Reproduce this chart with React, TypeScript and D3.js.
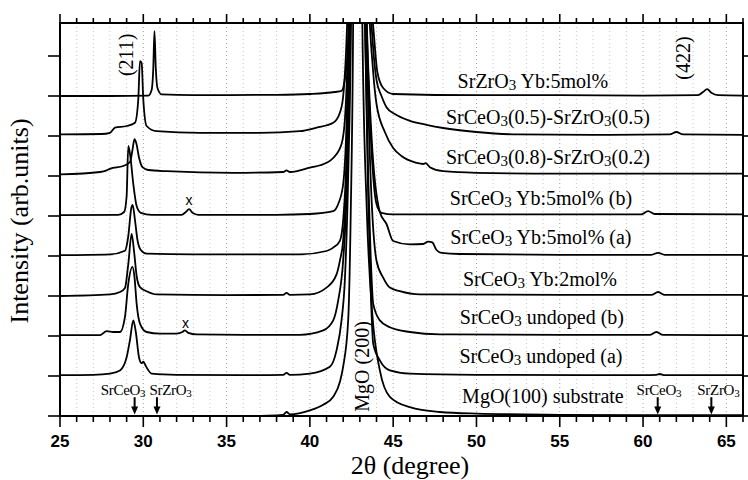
import React, { useRef, useEffect } from 'react';
import * as d3 from 'd3';

type Pt = [number, number];

// each scan: [2theta, height above its own baseline]; baselines are one tick apart
const mgoSubstrate: Pt[] = [
  [25, 0], [30, 0], [35, 0], [37.5, 0.01], [38.4, 0.03], [38.6, 0.1], [38.8, 0.04], [40, 0.14],
  [40.8, 0.28], [41.4, 0.48], [41.8, 0.85], [42.0, 1.24], [42.3, 2.4], [42.45, 5], [42.6, 10], [42.7, 18],
  [42.85, 40], [43.0, 18], [43.15, 9.8], [43.42, 5.1], [43.73, 2.64], [44.2, 1.14], [44.8, 0.48],
  [46, 0.22], [47.8, 0.1], [50, 0.06], [55, 0.03], [60, 0.02], [66, 0.02],
];
const undopedA: Pt[] = [
  [25, 0.02], [27, 0.03], [28.0, 0.06], [28.6, 0.14], [29.0, 0.47], [29.2, 0.9], [29.4, 1.39], [29.55, 1.1],
  [29.75, 0.45], [29.9, 0.32], [30.0, 0.36], [30.15, 0.25], [30.5, 0.06], [32, 0.03], [36, 0.02], [38.4, 0.03],
  [38.6, 0.08], [38.8, 0.03], [40.0, 0.06], [41.2, 0.23], [41.6, 0.64], [41.9, 1.39], [42.1, 2.4], [42.3, 5],
  [42.5, 10], [42.6, 16], [42.85, 40], [43.1, 16], [43.3, 9], [43.5, 4.5], [43.65, 2.2], [43.8, 0.81],
  [44.2, 0.39], [44.8, 0.14], [46, 0.06], [50, 0.03], [60, 0.02], [60.8, 0.03], [61.0, 0.05], [61.3, 0.02], [66, 0.02],
];
const undopedB: Pt[] = [
  [25, 0.02], [27.4, 0.02], [27.8, 0.12], [28.2, 0.1], [28.6, 0.1], [28.9, 0.48], [29.1, 1.31], [29.35, 1.73],
  [29.47, 1.48], [29.6, 0.81], [29.8, 0.31], [30.2, 0.1], [31, 0.06], [32.0, 0.06], [32.35, 0.1], [32.5, 0.14],
  [32.7, 0.08], [33.2, 0.04], [36, 0.03], [39.4, 0.03], [40.8, 0.14], [41.4, 0.39], [41.7, 0.89], [42.0, 1.9],
  [42.2, 3.5], [42.4, 7.5], [42.6, 16], [42.85, 40], [43.1, 15], [43.3, 8], [43.5, 4], [43.65, 2], [43.8, 0.81],
  [44.2, 0.39], [44.8, 0.22], [46, 0.1], [47.8, 0.04], [55, 0.03], [60.4, 0.03], [60.8, 0.1], [61.2, 0.03], [66, 0.02],
];
const yb2: Pt[] = [
  [25, 0.0], [28.0, 0.04], [28.6, 0.1], [28.9, 0.2], [29.1, 0.8], [29.3, 1.55], [29.45, 1.1], [29.6, 0.5],
  [29.8, 0.22], [30.2, 0.12], [30.8, 0.04], [35, 0.02], [38.4, 0.03], [38.6, 0.08], [38.8, 0.03], [40, 0.04],
  [41.0, 0.21], [41.6, 0.54], [41.8, 0.88], [42.0, 1.4], [42.2, 3], [42.4, 7], [42.6, 15], [42.85, 40],
  [43.1, 15], [43.3, 8.5], [43.6, 3.5], [44.0, 0.88], [44.4, 0.46], [44.8, 0.21], [45.4, 0.12], [46.6, 0.04],
  [55, 0.03], [60.5, 0.03], [60.9, 0.1], [61.3, 0.03], [66, 0.03],
];
const yb5a: Pt[] = [
  [25, 0.02], [28, 0.04], [28.9, 0.13], [29.1, 0.5], [29.28, 1.2], [29.36, 1.28], [29.5, 0.9], [29.65, 0.4],
  [29.85, 0.15], [30.2, 0.06], [33, 0.04], [39.4, 0.04], [41.0, 0.125], [41.4, 0.21], [41.8, 0.38], [42.0, 0.9],
  [42.2, 2.5], [42.4, 6.5], [42.6, 14], [42.85, 40], [43.1, 14], [43.3, 8], [43.7, 3], [44.2, 1.1], [44.6, 0.8],
  [45.0, 0.375], [46.0, 0.29], [46.8, 0.3], [47.1, 0.36], [47.35, 0.34], [47.6, 0.15], [47.9, 0.08], [49, 0.05],
  [55, 0.03], [60.5, 0.03], [60.9, 0.08], [61.3, 0.03], [66, 0.03],
];
const yb5b: Pt[] = [
  [25, 0.02], [28.5, 0.03], [28.85, 0.1], [29.0, 0.5], [29.1, 1.75], [29.22, 1.5], [29.4, 0.8], [29.6, 0.25],
  [29.85, 0.08], [30.5, 0.03], [32.3, 0.03], [32.55, 0.1], [32.75, 0.17], [32.95, 0.08], [33.3, 0.03], [38, 0.03],
  [40, 0.05], [41.4, 0.12], [41.7, 0.3], [42.0, 0.8], [42.2, 2.3], [42.4, 6], [42.6, 13], [42.85, 40],
  [43.1, 14], [43.3, 7], [43.6, 2.5], [43.8, 1.0], [44.0, 0.3], [44.3, 0.08], [45, 0.04], [55, 0.04],
  [59.9, 0.04], [60.3, 0.12], [60.7, 0.05], [66, 0.04],
];
const ce08zr02: Pt[] = [
  [25, 0.04], [27.4, 0.1], [27.8, 0.14], [28.0, 0.18], [28.8, 0.25], [29.2, 0.35], [29.35, 0.65], [29.47, 0.92],
  [29.58, 0.82], [29.75, 0.45], [29.95, 0.22], [30.3, 0.15], [31.4, 0.12], [35.4, 0.08], [38.4, 0.1], [38.6, 0.14],
  [38.8, 0.1], [40.0, 0.21], [41.0, 0.33], [41.4, 0.45], [41.9, 0.8], [42.1, 1.4], [42.3, 3.5], [42.5, 8],
  [42.65, 15], [42.85, 40], [43.1, 14], [43.4, 6], [43.8, 2.6], [44.0, 1.8], [44.5, 1.1], [45.0, 0.7],
  [45.5, 0.5], [46.4, 0.33], [46.8, 0.3], [46.95, 0.32], [47.2, 0.22], [48, 0.12], [50, 0.08], [55, 0.06],
  [60, 0.06], [66, 0.06],
];
const ce05zr05: Pt[] = [
  [25, 0.04], [27.5, 0.05], [28.0, 0.08], [28.3, 0.21], [29.0, 0.25], [29.5, 0.33], [29.7, 0.92], [29.8, 1.87],
  [29.9, 1.83], [30.0, 0.92], [30.2, 0.25], [30.8, 0.12], [33.4, 0.08], [37, 0.08], [39.4, 0.12], [40.4, 0.21],
  [41.4, 0.33], [41.8, 0.58], [42.0, 1.0], [42.2, 2.4], [42.4, 5.5], [42.6, 12], [42.85, 40], [43.1, 14],
  [43.4, 6], [43.8, 2.2], [44.0, 1.4], [44.3, 1.0], [44.6, 0.72], [45.1, 0.55], [46, 0.38], [47, 0.28],
  [48, 0.2], [50, 0.1], [52.5, 0.04], [58, 0.03], [61.6, 0.04], [62.0, 0.1], [62.4, 0.04], [66, 0.03],
];
const zrYb5: Pt[] = [
  [25, 0], [28, 0], [30.3, 0.01], [30.5, 0.15], [30.6, 0.7], [30.67, 1.62], [30.75, 0.7], [30.85, 0.2],
  [31.1, 0.04], [33, 0.02], [38, 0.03], [40, 0.05], [41.5, 0.1], [41.9, 0.13], [42.1, 0.42], [42.25, 1.0],
  [42.4, 2.2], [42.6, 8], [42.85, 40], [43.1, 14], [43.35, 6], [43.6, 3], [43.85, 1.5], [44.05, 0.6],
  [44.4, 0.2], [45.0, 0.05], [50, 0.02], [55, 0.02], [60, 0.01], [63.3, 0.02], [63.6, 0.1], [63.85, 0.17],
  [64.1, 0.08], [64.5, 0.02], [66, 0.01],
];

const scans = [mgoSubstrate, undopedA, undopedB, yb2, yb5a, yb5b, ce08zr02, ce05zr05, zrYb5];
const scanNames = [
  'MgO(100) substrate', 'SrCeO3 undoped (a)', 'SrCeO3 undoped (b)', 'SrCeO3 Yb:2mol%',
  'SrCeO3 Yb:5mol% (a)', 'SrCeO3 Yb:5mol% (b)', 'SrCeO3(0.8)-SrZrO3(0.2)',
  'SrCeO3(0.5)-SrZrO3(0.5)', 'SrZrO3 Yb:5mol%',
];
const nameX = [53.99, 53.87, 53.93, 53.81, 53.87, 53.87, 54.29, 54.29, 53.39];
const nameY = [0.325, 1.325, 2.3, 3.25, 4.3, 5.275, 6.3, 7.3, 8.2];

const hklText = ['(211)', '(422)', 'MgO (200)'];
const hklX = [28.95, 62.4, 43.1];
const hklY = [9.03, 8.95, 1.24];

const phaseText = ['SrCeO3', 'SrZrO3', 'SrCeO3', 'SrZrO3'];
const phaseAt = [29.48, 30.82, 60.88, 64.1];
const phaseTextX = [28.78, 31.63, 60.95, 64.52];

const impurityX = [32.74, 32.53];
const impurityY = [5.275, 2.2];

const xTicks = [25, 30, 35, 40, 45, 50, 55, 60, 65];
const yTicks = [0, 1, 2, 3, 4, 5, 6, 7, 8, 9];

const serif = '"Liberation Serif", "Times New Roman", serif';
const sans = '"Liberation Sans", Arial, sans-serif';

// writes "O3" with a small 3
const chem = (sel, str, sub, d) => {
  const parts = str.split('O3');
  parts.forEach((p, i) => {
    const t = sel.append('tspan').text(p + (i < parts.length - 1 ? 'O' : ''));
    if (i > 0) t.attr('dy', -d);
    if (i < parts.length - 1) sel.append('tspan').attr('font-size', sub).attr('dy', d).text('3');
  });
};

const XrdChart = ({ width = 748, height = 480 }) => {
  const svgRef = useRef(null);

  useEffect(() => {
    const svg = d3.select(svgRef.current);
    svg.selectAll('*').remove();

    const x = d3.scaleLinear().domain([25, 66]).range([60, 743]);
    const y = d3.scaleLinear().domain([0, 9.825]).range([416, 23]);
    const [x0, x1] = x.range();
    const [yb, yt] = y.range();

    svg.append('defs').append('clipPath').attr('id', 'plotclip')
      .append('rect').attr('x', x0).attr('y', yt).attr('width', x1 - x0).attr('height', yb - yt + 1);

    // dotted grid
    svg.append('g').selectAll('line')
      .data(d3.range(26, 66))
      .enter().append('line')
      .attr('x1', d => x(d)).attr('x2', d => x(d))
      .attr('y1', yt).attr('y2', yb)
      .attr('stroke', d => (d % 5 === 0 ? '#888' : '#bbb'))
      .attr('stroke-width', 0.8)
      .attr('stroke-dasharray', '1,3');

    // scans
    const plot = svg.append('g').attr('clip-path', 'url(#plotclip)');
    scans.forEach((pts, k) => {
      const line = d3.line<Pt>()
        .x(d => x(d[0]))
        .y(d => y(d[1] + k))
        .curve(d3.curveMonotoneX);
      plot.append('path')
        .datum(pts)
        .attr('d', line)
        .attr('fill', 'none')
        .attr('stroke', '#000')
        .attr('stroke-width', 1.8)
        .attr('stroke-linejoin', 'round');
    });

    // frame
    svg.append('rect')
      .attr('x', x0).attr('y', yt).attr('width', x1 - x0).attr('height', yb - yt)
      .attr('fill', 'none').attr('stroke', '#000').attr('stroke-width', 2);

    // ticks on all four sides
    const ax = svg.append('g').attr('stroke', '#000').attr('stroke-width', 1.6);
    d3.range(25, 67).forEach(v => {
      const major = v % 5 === 0;
      ax.append('line').attr('x1', x(v)).attr('x2', x(v)).attr('y1', yb).attr('y2', yb + (major ? 11 : 6));
      ax.append('line').attr('x1', x(v)).attr('x2', x(v)).attr('y1', yt).attr('y2', yt - (major ? 9 : 5));
    });
    yTicks.forEach(v => {
      ax.append('line').attr('x1', x0 - 12).attr('x2', x0).attr('y1', y(v)).attr('y2', y(v));
      ax.append('line').attr('x1', x1).attr('x2', x1 + 6).attr('y1', y(v)).attr('y2', y(v));
    });

    svg.append('g').selectAll('text')
      .data(xTicks)
      .enter().append('text')
      .attr('x', d => x(d)).attr('y', 447)
      .attr('text-anchor', 'middle')
      .attr('font-family', sans).attr('font-size', 17).attr('font-weight', 'bold')
      .text(d => d);

    // axis titles
    svg.append('text')
      .attr('transform', 'translate(28,221) rotate(-90)')
      .attr('text-anchor', 'middle')
      .attr('font-family', serif).attr('font-size', 26)
      .text('Intensity (arb.units)');
    svg.append('text')
      .attr('x', 410).attr('y', 474)
      .attr('text-anchor', 'middle')
      .attr('font-family', serif).attr('font-size', 26)
      .text('2\u03b8 (degree)');

    // scan names
    scanNames.forEach((name, i) => {
      const t = svg.append('text')
        .attr('x', x(nameX[i])).attr('y', y(nameY[i]))
        .attr('text-anchor', 'middle')
        .attr('font-family', serif).attr('font-size', 20)
        .style('white-space', 'pre');
      chem(t, name, 15, 2);
    });

    // reflection labels
    hklText.forEach((s, i) => {
      svg.append('text')
        .attr('transform', `translate(${x(hklX[i])},${y(hklY[i])}) rotate(-90)`)
        .attr('text-anchor', 'middle').attr('dy', '0.35em')
        .attr('font-family', serif).attr('font-size', 20)
        .text(s);
    });

    // impurity marks
    impurityX.forEach((v, i) => {
      svg.append('text')
        .attr('x', x(v)).attr('y', y(impurityY[i]))
        .attr('text-anchor', 'middle')
        .attr('font-family', sans).attr('font-size', 14)
        .text('x');
    });

    // reference positions with arrows
    phaseText.forEach((s, i) => {
      const t = svg.append('text')
        .attr('x', x(phaseTextX[i])).attr('y', y(0.52))
        .attr('text-anchor', 'middle')
        .attr('font-family', serif).attr('font-size', 15)
        .attr('letter-spacing', -0.3);
      chem(t, s, 11, 1.5);
      const ax0 = x(phaseAt[i]);
      const top = y(0.47), tip = y(0.04);
      svg.append('line')
        .attr('x1', ax0).attr('x2', ax0).attr('y1', top).attr('y2', tip - 6)
        .attr('stroke', '#000').attr('stroke-width', 2);
      svg.append('path')
        .attr('d', `M${ax0 - 3.5},${tip - 8}L${ax0 + 3.5},${tip - 8}L${ax0},${tip}Z`)
        .attr('fill', '#000');
    });
  }, [width, height]);

  return (
    <svg ref={svgRef} width={width} height={height}
      style={{ position: 'absolute', left: 0, top: 0, background: '#fff' }} />
  );
};

export default function App() {
  return <XrdChart />;
}
